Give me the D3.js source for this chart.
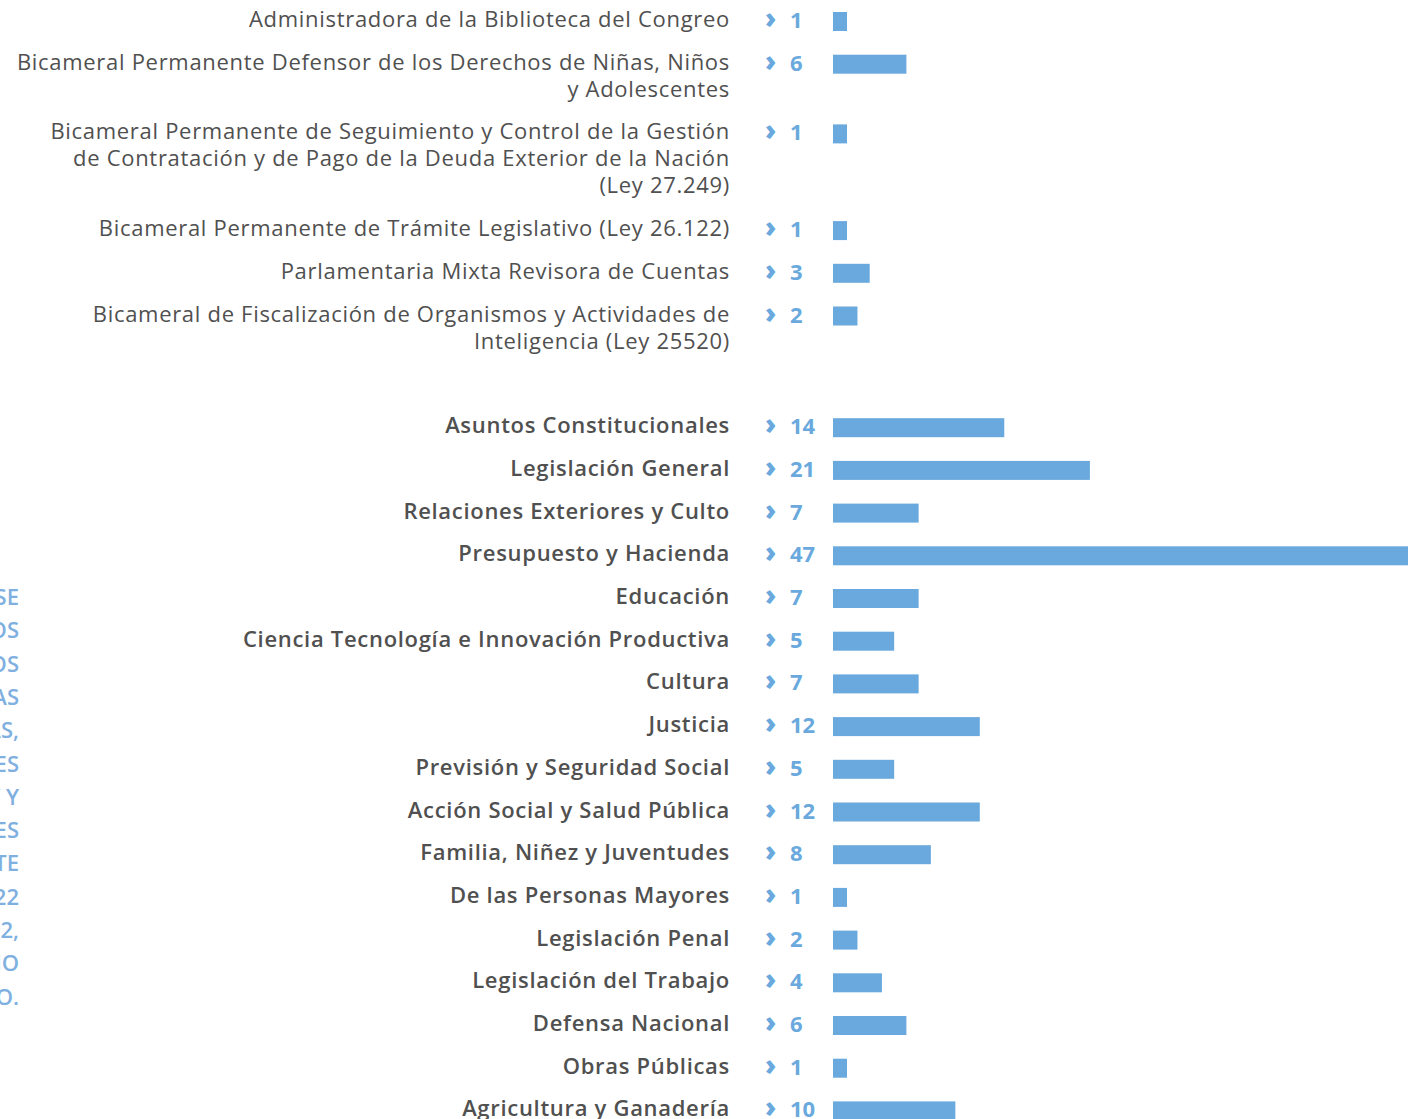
<!DOCTYPE html>
<html>
<head>
<meta charset="utf-8">
<script src="https://cdn.jsdelivr.net/npm/d3@7"></script>
<style>
  body { margin: 0; background: #fff; }
  svg { display: block; font-family: "Open Sans", "Noto Sans", sans-serif; }
</style>
</head>
<body>
<script>
// comisiones bicamerales
var bicLabels = [
    ["Administradora de la Biblioteca del Congreo"],
    ["Bicameral Permanente Defensor de los Derechos de Niñas, Niños", "y Adolescentes"],
    ["Bicameral Permanente de Seguimiento y Control de la Gestión", "de Contratación y de Pago de la Deuda Exterior de la Nación", "(Ley 27.249)"],
    ["Bicameral Permanente de Trámite Legislativo (Ley 26.122)"],
    ["Parlamentaria Mixta Revisora de Cuentas"],
    ["Bicameral de Fiscalización de Organismos y Actividades de", "Inteligencia (Ley 25520)"]
];
var bicValues = [1, 6, 1, 1, 3, 2];

// comisiones permanentes
var comLabels = [
    "Asuntos Constitucionales", "Legislación General", "Relaciones Exteriores y Culto",
    "Presupuesto y Hacienda", "Educación", "Ciencia Tecnología e Innovación Productiva",
    "Cultura", "Justicia", "Previsión y Seguridad Social", "Acción Social y Salud Pública",
    "Familia, Niñez y Juventudes", "De las Personas Mayores", "Legislación Penal",
    "Legislación del Trabajo", "Defensa Nacional", "Obras Públicas", "Agricultura y Ganadería"
];
var comValues = [14, 21, 7, 47, 7, 5, 7, 12, 5, 12, 8, 1, 2, 4, 6, 1, 10];

// texto lateral (cortado por el borde)
var sideLines = [
    "DURANTE EL AÑO PARLAMENTARIO SE",
    "REUNIERON LOS DISTINTOS ORGANISMOS",
    "DE TRABAJO DE LOS DIPUTADOS",
    "EN LAS COMISIONES PERMANENTES Y LAS",
    "COMISIONES BICAMERALES Y MIXTAS,",
    "QUE EMITIERON SUS DICTÁMENES",
    "SOBRE PROYECTOS DE LEY Y",
    "RESOLUCIONES",
    "DEL PERÍODO LEGISLATIVO CORRESPONDIENTE",
    "AL AÑO PARLAMENTARIO 2021-2022",
    "DEL 1 DE MARZO DE 2021 AL 28 DE FEBRERO DE 2022,",
    "SEGÚN LO INFORMADO POR CADA ORGANISMO",
    "DE ASESORAMIENTO LEGISLATIVO."
];

var w = 1412, h = 1119;
var rowStep = 42.7, lineStep = 27, groupGap = 42;

var svg = d3.select("body")
            .append("svg")
            .attr("width", w)
            .attr("height", h);

// filas con posicion vertical acumulada
var rows = [];
var yPos = 20;
for (var i = 0; i < bicLabels.length; i++) {
    rows.push({lines: bicLabels[i], value: bicValues[i], y: yPos, weight: 500});
    yPos += rowStep + (bicLabels[i].length - 1) * lineStep;
}
yPos += groupGap;
for (var i = 0; i < comLabels.length; i++) {
    rows.push({lines: [comLabels[i]], value: comValues[i], y: yPos, weight: 600});
    yPos += rowStep;
}

var xScale = d3.scaleLinear()
               .domain([0, d3.max(rows, d => d.value)])
               .range([833, 1408]);

var barH = 19;
var blue = "#6aa9dd";

var row = svg.append("g")
             .selectAll("g")
             .data(rows)
             .enter()
             .append("g")
             .attr("transform", d => "translate(0," + d.y + ")");

row.append("text")
   .attr("text-anchor", "end")
   .attr("font-size", 22)
   .attr("letter-spacing", 0.7)
   .attr("font-weight", d => d.weight)
   .attr("fill", "#505050")
   .selectAll("tspan")
   .data(d => d.lines)
   .enter()
   .append("tspan")
   .attr("x", 730)
   .attr("y", (d, i) => 7 + i * lineStep)
   .text(d => d);

row.append("text")
   .attr("x", 765)
   .attr("y", 8)
   .attr("font-size", 28)
   .attr("font-weight", 800)
   .attr("fill", blue)
   .text("›");

row.append("text")
   .attr("x", 790)
   .attr("y", 8)
   .attr("font-size", 22)
   .attr("font-weight", 700)
   .attr("fill", blue)
   .text(d => d.value);

row.append("rect")
   .attr("x", xScale(0))
   .attr("y", -8)
   .attr("width", d => Math.max(xScale(d.value) - xScale(0), 14))
   .attr("height", barH)
   .attr("fill", blue);

svg.append("g")
   .selectAll("text")
   .data(sideLines)
   .enter()
   .append("text")
   .attr("x", 19)
   .attr("y", (d, i) => 605 + i * 33.3)
   .attr("text-anchor", "end")
   .attr("font-size", 22)
   .attr("font-weight", 600)
   .attr("fill", "#7fb0df")
   .text(d => d);
</script>
</body>
</html>
